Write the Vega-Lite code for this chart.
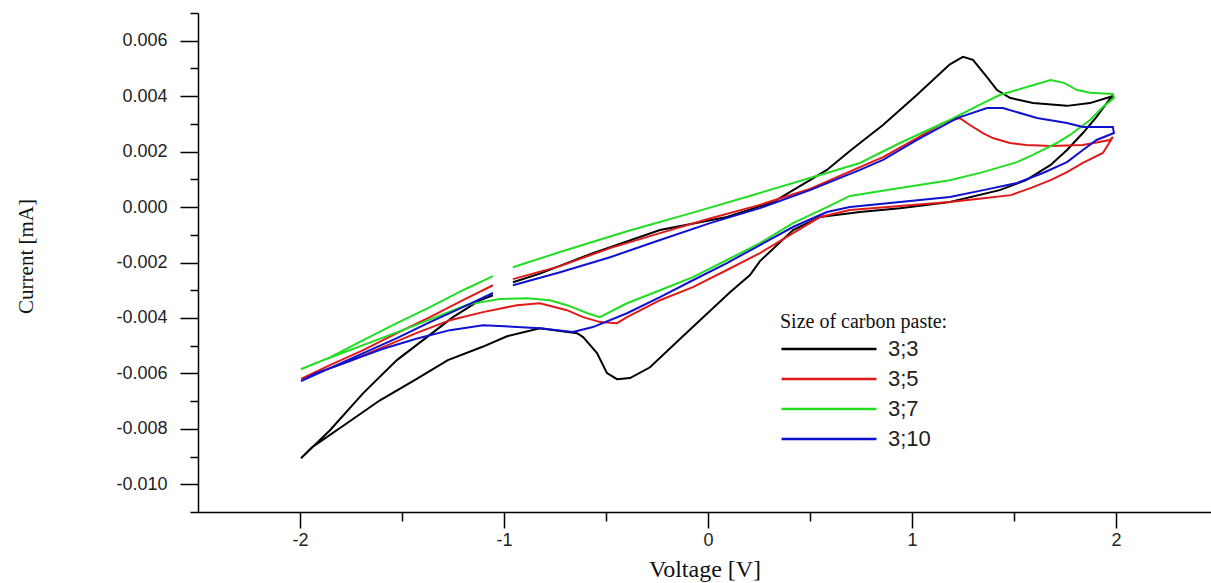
{
"$schema": "https://vega.github.io/schema/vega-lite/v6.json",
"width": 1013,
"height": 499,
"autosize": "none",
"padding": {"left": 198, "top": 13, "right": 0, "bottom": 71},
"background": "white",
"config": {"view": {"stroke": null}},
"datasets": {
"cv": [
{"s":"3;3","i":1,"v":-0.956,"c":-0.00271},{"s":"3;3","i":2,"v":-0.824,"c":-0.00240},{"s":"3;3","i":3,"v":-0.564,"c":-0.00166},{"s":"3;3","i":4,"v":-0.235,"c":-0.00083},{"s":"3;3","i":5,"v":0.093,"c":-0.00036},{"s":"3;3","i":6,"v":0.319,"c":0.00018},{"s":"3;3","i":7,"v":0.5,"c":0.00097},{"s":"3;3","i":8,"v":0.583,"c":0.00134},{"s":"3;3","i":9,"v":0.70,"c":0.00205},{"s":"3;3","i":10,"v":0.858,"c":0.00296},{"s":"3;3","i":11,"v":1.025,"c":0.00405},{"s":"3;3","i":12,"v":1.186,"c":0.00515},{"s":"3;3","i":13,"v":1.25,"c":0.00542},{"s":"3;3","i":14,"v":1.299,"c":0.00531},{"s":"3;3","i":15,"v":1.368,"c":0.00469},{"s":"3;3","i":16,"v":1.417,"c":0.00422},{"s":"3;3","i":17,"v":1.48,"c":0.00394},{"s":"3;3","i":18,"v":1.593,"c":0.00375},{"s":"3;3","i":19,"v":1.76,"c":0.00365},{"s":"3;3","i":20,"v":1.873,"c":0.00375},{"s":"3;3","i":21,"v":1.97,"c":0.00397},{"s":"3;3","i":22,"v":1.99,"c":0.00402},{"s":"3;3","i":23,"v":1.97,"c":0.00390},{"s":"3;3","i":24,"v":1.905,"c":0.00325},{"s":"3;3","i":25,"v":1.838,"c":0.00267},{"s":"3;3","i":26,"v":1.76,"c":0.00206},{"s":"3;3","i":27,"v":1.68,"c":0.00152},{"s":"3;3","i":28,"v":1.56,"c":0.00097},{"s":"3;3","i":29,"v":1.43,"c":0.00061},{"s":"3;3","i":30,"v":1.186,"c":0.00018},{"s":"3;3","i":31,"v":0.941,"c":-0.00004},{"s":"3;3","i":32,"v":0.745,"c":-0.00018},{"s":"3;3","i":33,"v":0.549,"c":-0.00036},{"s":"3;3","i":34,"v":0.417,"c":-0.00083},{"s":"3;3","i":35,"v":0.255,"c":-0.00195},{"s":"3;3","i":36,"v":0.206,"c":-0.00245},{"s":"3;3","i":37,"v":0.108,"c":-0.00307},{"s":"3;3","i":38,"v":-0.127,"c":-0.00469},{"s":"3;3","i":39,"v":-0.284,"c":-0.00578},{"s":"3;3","i":40,"v":-0.382,"c":-0.00617},{"s":"3;3","i":41,"v":-0.446,"c":-0.00621},{"s":"3;3","i":42,"v":-0.495,"c":-0.00599},{"s":"3;3","i":43,"v":-0.544,"c":-0.00527},{"s":"3;3","i":44,"v":-0.612,"c":-0.00469},{"s":"3;3","i":45,"v":-0.642,"c":-0.00455},{"s":"3;3","i":46,"v":-0.824,"c":-0.00437},{"s":"3;3","i":47,"v":-0.985,"c":-0.00466},{"s":"3;3","i":48,"v":-1.108,"c":-0.00505},{"s":"3;3","i":49,"v":-1.275,"c":-0.00552},{"s":"3;3","i":50,"v":-1.44,"c":-0.00625},{"s":"3;3","i":51,"v":-1.608,"c":-0.00697},{"s":"3;3","i":52,"v":-1.77,"c":-0.00780},{"s":"3;3","i":53,"v":-1.94,"c":-0.00866},{"s":"3;3","i":54,"v":-1.995,"c":-0.00906},{"s":"3;3","i":55,"v":-1.853,"c":-0.00805},{"s":"3;3","i":56,"v":-1.69,"c":-0.00671},{"s":"3;3","i":57,"v":-1.525,"c":-0.00552},{"s":"3;3","i":58,"v":-1.397,"c":-0.00480},{"s":"3;3","i":59,"v":-1.25,"c":-0.00397},{"s":"3;3","i":60,"v":-1.118,"c":-0.00336},{"s":"3;3","i":61,"v":-1.054,"c":-0.00318},
{"s":"3;5","i":1,"v":-0.956,"c":-0.00260},{"s":"3;5","i":2,"v":-0.725,"c":-0.00213},{"s":"3;5","i":3,"v":-0.48,"c":-0.00148},{"s":"3;5","i":4,"v":-0.235,"c":-0.00094},{"s":"3;5","i":5,"v":0.0,"c":-0.00043},{"s":"3;5","i":6,"v":0.25,"c":0.00007},{"s":"3;5","i":7,"v":0.5,"c":0.00065},{"s":"3;5","i":8,"v":0.745,"c":0.00144},{"s":"3;5","i":9,"v":0.858,"c":0.00180},{"s":"3;5","i":10,"v":1.025,"c":0.00249},{"s":"3;5","i":11,"v":1.152,"c":0.00303},{"s":"3;5","i":12,"v":1.235,"c":0.00321},{"s":"3;5","i":13,"v":1.284,"c":0.00296},{"s":"3;5","i":14,"v":1.348,"c":0.00267},{"s":"3;5","i":15,"v":1.397,"c":0.00249},{"s":"3;5","i":16,"v":1.48,"c":0.00231},{"s":"3;5","i":17,"v":1.56,"c":0.00224},{"s":"3;5","i":18,"v":1.68,"c":0.00220},{"s":"3;5","i":19,"v":1.838,"c":0.00224},{"s":"3;5","i":20,"v":1.97,"c":0.00242},{"s":"3;5","i":21,"v":1.985,"c":0.00253},{"s":"3;5","i":22,"v":1.936,"c":0.00195},{"s":"3;5","i":23,"v":1.838,"c":0.00159},{"s":"3;5","i":24,"v":1.76,"c":0.00126},{"s":"3;5","i":25,"v":1.68,"c":0.00097},{"s":"3;5","i":26,"v":1.584,"c":0.00069},{"s":"3;5","i":27,"v":1.485,"c":0.00043},{"s":"3;5","i":28,"v":1.35,"c":0.00032},{"s":"3;5","i":29,"v":1.186,"c":0.00018},{"s":"3;5","i":30,"v":0.941,"c":0.00004},{"s":"3;5","i":31,"v":0.696,"c":-0.00011},{"s":"3;5","i":32,"v":0.549,"c":-0.00036},{"s":"3;5","i":33,"v":0.417,"c":-0.00094},{"s":"3;5","i":34,"v":0.255,"c":-0.00166},{"s":"3;5","i":35,"v":0.093,"c":-0.00227},{"s":"3;5","i":36,"v":-0.074,"c":-0.00289},{"s":"3;5","i":37,"v":-0.235,"c":-0.00336},{"s":"3;5","i":38,"v":-0.397,"c":-0.00397},{"s":"3;5","i":39,"v":-0.446,"c":-0.00419},{"s":"3;5","i":40,"v":-0.529,"c":-0.00415},{"s":"3;5","i":41,"v":-0.612,"c":-0.00397},{"s":"3;5","i":42,"v":-0.691,"c":-0.00372},{"s":"3;5","i":43,"v":-0.824,"c":-0.00347},{"s":"3;5","i":44,"v":-0.936,"c":-0.00354},{"s":"3;5","i":45,"v":-1.103,"c":-0.00379},{"s":"3;5","i":46,"v":-1.265,"c":-0.00408},{"s":"3;5","i":47,"v":-1.43,"c":-0.00455},{"s":"3;5","i":48,"v":-1.593,"c":-0.00505},{"s":"3;5","i":49,"v":-1.755,"c":-0.00555},{"s":"3;5","i":50,"v":-1.92,"c":-0.00600},{"s":"3;5","i":51,"v":-1.995,"c":-0.00620},{"s":"3;5","i":52,"v":-1.853,"c":-0.00570},{"s":"3;5","i":53,"v":-1.69,"c":-0.00516},{"s":"3;5","i":54,"v":-1.525,"c":-0.00455},{"s":"3;5","i":55,"v":-1.363,"c":-0.00397},{"s":"3;5","i":56,"v":-1.201,"c":-0.00336},{"s":"3;5","i":57,"v":-1.054,"c":-0.00282},
{"s":"3;7","i":1,"v":-0.956,"c":-0.00217},{"s":"3;7","i":2,"v":-0.725,"c":-0.00162},{"s":"3;7","i":3,"v":-0.397,"c":-0.00087},{"s":"3;7","i":4,"v":-0.074,"c":-0.00020},{"s":"3;7","i":5,"v":0.255,"c":0.00051},{"s":"3;7","i":6,"v":0.5,"c":0.00105},{"s":"3;7","i":7,"v":0.745,"c":0.00159},{"s":"3;7","i":8,"v":0.941,"c":0.00231},{"s":"3;7","i":9,"v":1.186,"c":0.00314},{"s":"3;7","i":10,"v":1.348,"c":0.00375},{"s":"3;7","i":11,"v":1.43,"c":0.00404},{"s":"3;7","i":12,"v":1.563,"c":0.00433},{"s":"3;7","i":13,"v":1.68,"c":0.00458},{"s":"3;7","i":14,"v":1.745,"c":0.00448},{"s":"3;7","i":15,"v":1.81,"c":0.00422},{"s":"3;7","i":16,"v":1.873,"c":0.00412},{"s":"3;7","i":17,"v":1.985,"c":0.00408},{"s":"3;7","i":18,"v":1.99,"c":0.00393},{"s":"3;7","i":19,"v":1.936,"c":0.00361},{"s":"3;7","i":20,"v":1.873,"c":0.00314},{"s":"3;7","i":21,"v":1.775,"c":0.00260},{"s":"3;7","i":22,"v":1.71,"c":0.00231},{"s":"3;7","i":23,"v":1.593,"c":0.00188},{"s":"3;7","i":24,"v":1.515,"c":0.00162},{"s":"3;7","i":25,"v":1.348,"c":0.00126},{"s":"3;7","i":26,"v":1.186,"c":0.00097},{"s":"3;7","i":27,"v":0.941,"c":0.00069},{"s":"3;7","i":28,"v":0.696,"c":0.00040},{"s":"3;7","i":29,"v":0.583,"c":0.0},{"s":"3;7","i":30,"v":0.417,"c":-0.00058},{"s":"3;7","i":31,"v":0.255,"c":-0.00130},{"s":"3;7","i":32,"v":0.093,"c":-0.00191},{"s":"3;7","i":33,"v":-0.074,"c":-0.00253},{"s":"3;7","i":34,"v":-0.235,"c":-0.00300},{"s":"3;7","i":35,"v":-0.397,"c":-0.00347},{"s":"3;7","i":36,"v":-0.53,"c":-0.00397},{"s":"3;7","i":37,"v":-0.59,"c":-0.00383},{"s":"3;7","i":38,"v":-0.691,"c":-0.00354},{"s":"3;7","i":39,"v":-0.775,"c":-0.00336},{"s":"3;7","i":40,"v":-0.887,"c":-0.00329},{"s":"3;7","i":41,"v":-1.02,"c":-0.00332},{"s":"3;7","i":42,"v":-1.18,"c":-0.00352},{"s":"3;7","i":43,"v":-1.43,"c":-0.00425},{"s":"3;7","i":44,"v":-1.6,"c":-0.00473},{"s":"3;7","i":45,"v":-1.77,"c":-0.00520},{"s":"3;7","i":46,"v":-1.93,"c":-0.00565},{"s":"3;7","i":47,"v":-1.995,"c":-0.00585},{"s":"3;7","i":48,"v":-1.853,"c":-0.00542},{"s":"3;7","i":49,"v":-1.69,"c":-0.00480},{"s":"3;7","i":50,"v":-1.525,"c":-0.00419},{"s":"3;7","i":51,"v":-1.363,"c":-0.00361},{"s":"3;7","i":52,"v":-1.201,"c":-0.00300},{"s":"3;7","i":53,"v":-1.054,"c":-0.00249},
{"s":"3;10","i":1,"v":-0.956,"c":-0.00282},{"s":"3;10","i":2,"v":-0.725,"c":-0.00235},{"s":"3;10","i":3,"v":-0.48,"c":-0.00181},{"s":"3;10","i":4,"v":-0.235,"c":-0.00119},{"s":"3;10","i":5,"v":0.01,"c":-0.00058},{"s":"3;10","i":6,"v":0.255,"c":-0.00004},{"s":"3;10","i":7,"v":0.5,"c":0.00061},{"s":"3;10","i":8,"v":0.745,"c":0.00134},{"s":"3;10","i":9,"v":0.858,"c":0.00170},{"s":"3;10","i":10,"v":1.025,"c":0.00242},{"s":"3;10","i":11,"v":1.221,"c":0.00321},{"s":"3;10","i":12,"v":1.368,"c":0.00357},{"s":"3;10","i":13,"v":1.446,"c":0.00357},{"s":"3;10","i":14,"v":1.613,"c":0.00321},{"s":"3;10","i":15,"v":1.76,"c":0.00303},{"s":"3;10","i":16,"v":1.838,"c":0.00289},{"s":"3;10","i":17,"v":1.985,"c":0.00289},{"s":"3;10","i":18,"v":1.99,"c":0.00267},{"s":"3;10","i":19,"v":1.905,"c":0.00242},{"s":"3;10","i":20,"v":1.838,"c":0.00206},{"s":"3;10","i":21,"v":1.76,"c":0.00162},{"s":"3;10","i":22,"v":1.642,"c":0.00123},{"s":"3;10","i":23,"v":1.515,"c":0.00087},{"s":"3;10","i":24,"v":1.35,"c":0.00061},{"s":"3;10","i":25,"v":1.186,"c":0.00036},{"s":"3;10","i":26,"v":0.941,"c":0.00018},{"s":"3;10","i":27,"v":0.696,"c":0.0},{"s":"3;10","i":28,"v":0.583,"c":-0.00018},{"s":"3;10","i":29,"v":0.417,"c":-0.00072},{"s":"3;10","i":30,"v":0.255,"c":-0.00137},{"s":"3;10","i":31,"v":0.093,"c":-0.00202},{"s":"3;10","i":32,"v":-0.074,"c":-0.00264},{"s":"3;10","i":33,"v":-0.235,"c":-0.00325},{"s":"3;10","i":34,"v":-0.397,"c":-0.00383},{"s":"3;10","i":35,"v":-0.564,"c":-0.00433},{"s":"3;10","i":36,"v":-0.662,"c":-0.00451},{"s":"3;10","i":37,"v":-0.824,"c":-0.00437},{"s":"3;10","i":38,"v":-1.103,"c":-0.00426},{"s":"3;10","i":39,"v":-1.265,"c":-0.00444},{"s":"3;10","i":40,"v":-1.43,"c":-0.00475},{"s":"3;10","i":41,"v":-1.6,"c":-0.00513},{"s":"3;10","i":42,"v":-1.76,"c":-0.00556},{"s":"3;10","i":43,"v":-1.93,"c":-0.00602},{"s":"3;10","i":44,"v":-1.995,"c":-0.00628},{"s":"3;10","i":45,"v":-1.853,"c":-0.00581},{"s":"3;10","i":46,"v":-1.69,"c":-0.00527},{"s":"3;10","i":47,"v":-1.525,"c":-0.00473},{"s":"3;10","i":48,"v":-1.363,"c":-0.00415},{"s":"3;10","i":49,"v":-1.201,"c":-0.00361},{"s":"3;10","i":50,"v":-1.054,"c":-0.00310}
]
},
"data": {"name": "cv"},
"mark": {"type": "line", "strokeWidth": 2, "clip": true, "interpolate": "linear"},
"encoding": {
"x": {"field": "v", "type": "quantitative",
 "scale": {"domain": [-2.5, 2.466], "nice": false, "zero": false},
 "axis": {"values": [-2, -1.5, -1, -0.5, 0, 0.5, 1, 1.5, 2],
  "labelExpr": "datum.value % 1 == 0 ? (datum.value < 0 ? '-' + format(-datum.value, 'd') : format(datum.value, 'd')) : ''",
  "tickSize": {"condition": {"test": "datum.value % 1 == 0", "value": 16}, "value": 9},
  "title": "Voltage [V]", "titleFont": "Liberation Serif", "titleFontSize": 24, "titleFontWeight": "normal", "titleColor": "#111", "titlePadding": 8,
  "labelFont": "Liberation Sans", "labelFontSize": 18, "labelColor": "#222", "labelPadding": 3, "labelFlush": false, "labelOverlap": false,
  "domainColor": "#000", "domainWidth": 1.5, "tickColor": "#000", "tickWidth": 1.5, "grid": false}},
"y": {"field": "c", "type": "quantitative",
 "scale": {"domain": [-0.011, 0.007], "nice": false, "zero": false},
 "axis": {"values": [-0.011, -0.01, -0.009, -0.008, -0.007, -0.006, -0.005, -0.004, -0.003, -0.002, -0.001, 0, 0.001, 0.002, 0.003, 0.004, 0.005, 0.006, 0.007],
  "labelExpr": "abs(round(datum.value * 1000)) % 2 == 0 ? (datum.value < -0.0000001 ? '-' + format(-datum.value, '.3f') : format(abs(datum.value), '.3f')) : ''",
  "tickSize": {"condition": {"test": "abs(round(datum.value * 1000)) % 2 == 0", "value": 18}, "value": 8},
  "title": "Current [mA]", "titleFont": "Liberation Serif", "titleFontSize": 21, "titleFontWeight": "normal", "titleColor": "#111",
  "titleAngle": -90, "titleAlign": "center", "titleBaseline": "middle", "titleX": -172, "titleY": 243,
  "labelFont": "Liberation Sans", "labelFontSize": 18, "labelColor": "#222", "labelPadding": 13, "labelOverlap": false, "labelFlush": false,
  "domainColor": "#000", "domainWidth": 1.5, "tickColor": "#000", "tickWidth": 1.5, "grid": false}},
"color": {"field": "s", "type": "nominal",
 "scale": {"domain": ["3;3", "3;5", "3;7", "3;10"], "range": ["#000000", "#e01a1a", "#22dd22", "#1010d0"]},
 "legend": {"orient": "none", "legendX": 582, "legendY": 299, "title": "Size of carbon paste:",
  "titleFont": "Liberation Serif", "titleFontSize": 20, "titleFontWeight": "normal", "titleColor": "#111", "titlePadding": 6,
  "labelFont": "Liberation Sans", "labelFontSize": 22, "labelColor": "#222", "labelOffset": 86,
  "symbolType": "M-1,0H9", "symbolSize": 361, "symbolStrokeWidth": 2.5, "rowPadding": 8}},
"order": {"field": "i", "type": "quantitative"}
}
}
